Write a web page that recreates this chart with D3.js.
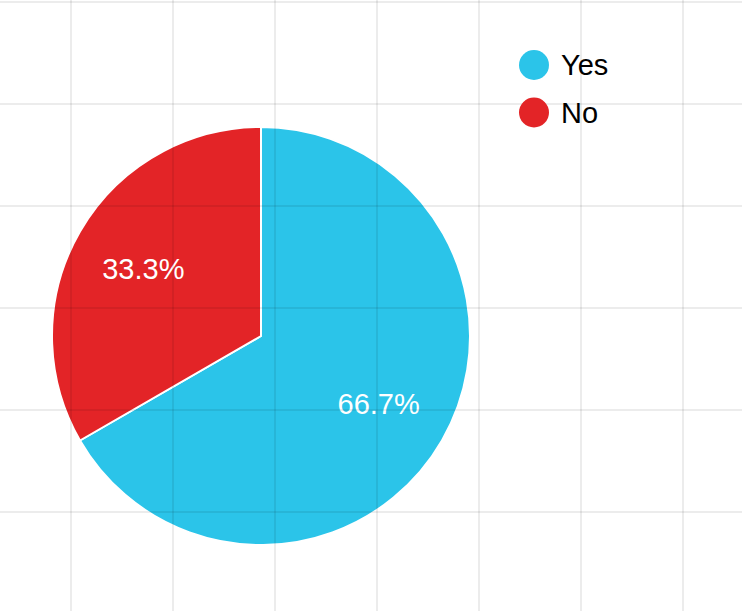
<!DOCTYPE html>
<html>
<head>
<meta charset="utf-8">
<script src="https://cdn.jsdelivr.net/npm/d3@7"></script>
<style>
html,body{margin:0;padding:0;background:#fff;}
svg{display:block;font-family:"Liberation Sans",Arial,sans-serif;}
</style>
</head>
<body>
<svg id="chart" width="742" height="611"></svg>
<script>
const categories = ["Yes", "No"];
const values = [2, 1];
const colors = ["#2bc4e9", "#e32427"];

const W = 742, H = 611;
const svg = d3.select("#chart");
const cx = 261, cy = 336, R = 209;

const pie = d3.pie().sort(null).value(d => d.value);
const data = categories.map((c, i) => ({name: c, value: values[i], color: colors[i]}));
const arcs = pie(data);
const total = d3.sum(values);
const arc = d3.arc().innerRadius(0).outerRadius(R);
const labelArc = d3.arc().innerRadius(R * 0.65).outerRadius(R * 0.65);

const g = svg.append("g").attr("transform", `translate(${cx},${cy})`);
g.selectAll("path").data(arcs).join("path")
  .attr("d", arc)
  .attr("fill", d => d.data.color)
  .attr("stroke", "#fff")
  .attr("stroke-width", 2)
  .attr("stroke-linejoin", "round");

g.selectAll("text").data(arcs).join("text")
  .attr("transform", d => `translate(${labelArc.centroid(d)})`)
  .attr("text-anchor", "middle")
  .attr("dy", "0.36em")
  .attr("fill", "#fff")
  .attr("font-size", 29)
  .text(d => (d.data.value / total * 100).toFixed(1) + "%");

// grid overlay
const step = 102;
const gx = d3.range(71, W, step);
const gy = d3.range(2, H, step);
const grid = svg.append("g").attr("stroke", "rgba(0,0,0,0.075)").attr("stroke-width", 2);
grid.selectAll("line.v").data(gx).join("line").attr("class", "v")
  .attr("x1", d => d).attr("x2", d => d).attr("y1", 0).attr("y2", H);
grid.selectAll("line.h").data(gy).join("line").attr("class", "h")
  .attr("y1", d => d).attr("y2", d => d).attr("x1", 0).attr("x2", W);

// legend
const legend = svg.append("g").attr("transform", "translate(534,65)");
const items = legend.selectAll("g").data(data).join("g")
  .attr("transform", (d, i) => `translate(0,${i * 47.5})`);
items.append("circle").attr("r", 15).attr("fill", d => d.color);
items.append("text").attr("x", 27).attr("dy", "0.36em")
  .attr("font-size", 29).attr("fill", "#000").text(d => d.name);
</script>
</body>
</html>
